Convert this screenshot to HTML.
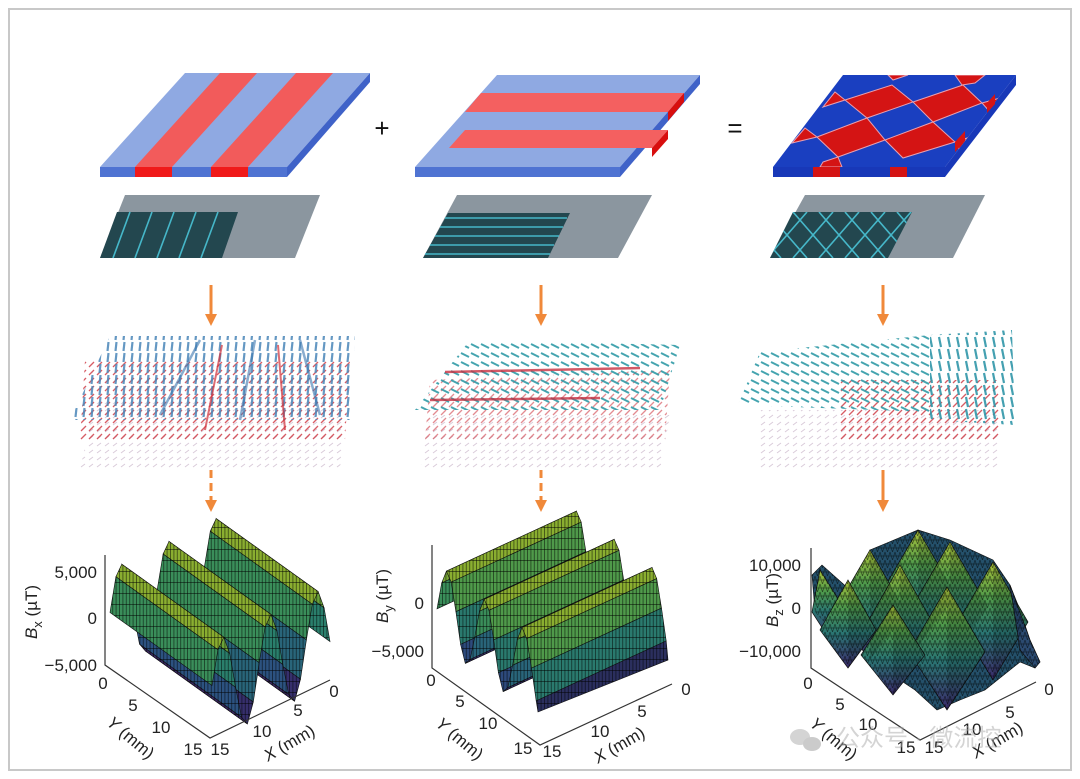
<!DOCTYPE html>
<html><head><meta charset="utf-8">
<style>
html,body{margin:0;padding:0;background:#fff;}
svg{display:block;font-family:"Liberation Sans","Noto Sans CJK SC",sans-serif;}
.t{font-size:17px;fill:#222;}
</style></head>
<body>
<svg width="1080" height="779" viewBox="0 0 1080 779" xmlns="http://www.w3.org/2000/svg">
<defs>
<clipPath id="c3"><polygon points="843,75 1016,75 945,167 773,167"/></clipPath>
<clipPath id="m3"><polygon points="793,212 912,212 888,258 770,258"/></clipPath>
<clipPath id="s1">
<polygon points="228,568.6 330,641.6 324.1,607.8 222.1,534.8"/>
<polygon points="222.1,534.8 324.1,607.8 318.2,591.6 216.2,518.6"/>
<polygon points="216.2,518.6 318.2,591.6 312.3,604.2 210.3,531.2"/>
<polygon points="210.3,531.2 312.3,604.2 306.4,639.9 204.4,566.9"/>
<polygon points="204.4,566.9 306.4,639.9 300.5,679.2 198.5,606.2"/>
<polygon points="198.5,606.2 300.5,679.2 294.6,701.2 192.6,628.2"/>
<polygon points="192.6,628.2 294.6,701.2 288.7,694.3 186.7,621.3"/>
<polygon points="186.7,621.3 288.7,694.3 282.8,664.4 180.8,591.4"/>
<polygon points="180.8,591.4 282.8,664.4 276.9,630.6 174.9,557.6"/>
<polygon points="174.9,557.6 276.9,630.6 271,614.4 169,541.4"/>
<polygon points="169,541.4 271,614.4 265.1,627 163.1,554"/>
<polygon points="163.1,554 265.1,627 259.2,662.7 157.2,589.7"/>
<polygon points="157.2,589.7 259.2,662.7 253.3,702 151.3,629"/>
<polygon points="151.3,629 253.3,702 247.4,724 145.4,651"/>
<polygon points="145.4,651 247.4,724 241.5,717.1 139.5,644.1"/>
<polygon points="139.5,644.1 241.5,717.1 235.6,687.2 133.6,614.2"/>
<polygon points="133.6,614.2 235.6,687.2 229.7,653.4 127.7,580.4"/>
<polygon points="127.7,580.4 229.7,653.4 223.8,637.2 121.8,564.2"/>
<polygon points="121.8,564.2 223.8,637.2 217.9,649.8 115.9,576.8"/>
<polygon points="115.9,576.8 217.9,649.8 212,685.5 110,612.5"/>
</clipPath>
<clipPath id="s2">
<polygon points="437,608.8 567,548.8 571.7,522.9 441.7,582.9"/>
<polygon points="441.7,582.9 571.7,522.9 576.4,511.1 446.4,571.1"/>
<polygon points="446.4,571.1 576.4,511.1 581.2,522.1 451.2,582.1"/>
<polygon points="451.2,582.1 581.2,522.1 585.9,551.7 455.9,611.7"/>
<polygon points="455.9,611.7 585.9,551.7 590.6,584.4 460.6,644.4"/>
<polygon points="460.6,644.4 590.6,584.4 595.3,603.4 465.3,663.4"/>
<polygon points="465.3,663.4 595.3,603.4 600.1,599.4 470.1,659.4"/>
<polygon points="470.1,659.4 600.1,599.4 604.8,577 474.8,637"/>
<polygon points="474.8,637 604.8,577 609.5,551.1 479.5,611.1"/>
<polygon points="479.5,611.1 609.5,551.1 614.2,539.3 484.2,599.3"/>
<polygon points="484.2,599.3 614.2,539.3 619,550.3 489,610.3"/>
<polygon points="489,610.3 619,550.3 623.7,579.9 493.7,639.9"/>
<polygon points="493.7,639.9 623.7,579.9 628.4,612.7 498.4,672.7"/>
<polygon points="498.4,672.7 628.4,612.7 633.1,631.6 503.1,691.6"/>
<polygon points="503.1,691.6 633.1,631.6 637.8,627.6 507.8,687.6"/>
<polygon points="507.8,687.6 637.8,627.6 642.6,605.2 512.6,665.2"/>
<polygon points="512.6,665.2 642.6,605.2 647.3,579.4 517.3,639.4"/>
<polygon points="517.3,639.4 647.3,579.4 652,567.5 522,627.5"/>
<polygon points="522,627.5 652,567.5 656.7,578.6 526.7,638.6"/>
<polygon points="526.7,638.6 656.7,578.6 661.5,608.1 531.5,668.1"/>
<polygon points="531.5,668.1 661.5,608.1 666.2,640.9 536.2,700.9"/>
<polygon points="536.2,700.9 666.2,640.9 668,660 538,712"/>
</clipPath>
<clipPath id="s3">
<polygon points="812,575 822,565 850,590 870,550 918,530 950,540 993,560 1010,585 1020,610 1030,640 1040,662 1035,668 1020,662 985,690 960,700 937,710 915,690 900,680 880,660 860,648 840,640 815,612"/>
<polygon points="918,530 956,595 918,645 880,595"/><polygon points="950,542 988,607 950,657 912,607"/>
<polygon points="870,550 906,612 870,660 834,612"/><polygon points="993,562 1028,622 993,680 958,622"/>
<polygon points="900,565 934,625 900,672 866,625"/><polygon points="848,580 876,630 848,668 820,630"/>
<polygon points="947,587 985,652 947,710 909,652"/><polygon points="893,605 925,655 893,695 861,655"/>
</clipPath>
<pattern id="mesh" width="3.4" height="11" patternUnits="userSpaceOnUse">
<line x1="0.5" y1="0" x2="0.5" y2="11" stroke="#000" stroke-width="0.8" opacity="0.6"/>
<line x1="0" y1="10.5" x2="3.4" y2="10.5" stroke="#000" stroke-width="0.9" opacity="0.55"/>
</pattern>
<pattern id="mesh3" width="5" height="8" patternUnits="userSpaceOnUse">
<path d="M0,0 L2.5,8 M5,0 L2.5,8 M0,4 L5,4" stroke="#000" stroke-width="0.7" opacity="0.55" fill="none"/>
</pattern>
<pattern id="pBlue" width="8" height="11" patternUnits="userSpaceOnUse">
<line x1="3.5" y1="10" x2="4.5" y2="1" stroke="#4a86b8" stroke-width="2.2"/>
</pattern>
<pattern id="pRed" width="8" height="8" patternUnits="userSpaceOnUse">
<line x1="1" y1="7" x2="6" y2="2" stroke="#d0404a" stroke-width="1.3"/>
</pattern>
<pattern id="pGray" width="8" height="7" patternUnits="userSpaceOnUse">
<line x1="1" y1="5" x2="5" y2="2" stroke="#c0a8c0" stroke-width="1"/>
</pattern>
<pattern id="pTeal" width="10" height="9" patternUnits="userSpaceOnUse">
<line x1="9" y1="6" x2="1" y2="2" stroke="#2f9aa6" stroke-width="2"/>
</pattern>
<pattern id="pTealV" width="9" height="12" patternUnits="userSpaceOnUse">
<line x1="3" y1="1" x2="5" y2="11" stroke="#2f95a8" stroke-width="2.2"/>
</pattern>
<linearGradient id="cone" x1="0" y1="0" x2="0" y2="1">
<stop offset="0" stop-color="#a9c23a"/><stop offset="0.3" stop-color="#4f9a4a"/>
<stop offset="0.6" stop-color="#2a7572"/><stop offset="1" stop-color="#3b2a6b"/>
</linearGradient>
</defs>
<rect x="0" y="0" width="1080" height="779" fill="#fff"/>
<rect x="9" y="9" width="1062" height="761" fill="none" stroke="#c8c8c8" stroke-width="2"/>

<!-- Slab 1 -->
<polygon points="185,73 370,73 287,167 100,167" fill="#8fa9e2"/>
<polygon points="100,167 287,167 287,177 100,177" fill="#4f73d2"/>
<polygon points="370,73 370,82 287,177 287,167" fill="#3f62c8"/>
<polygon points="220,73 257,73 172,167 135,167" fill="#f25b5b"/>
<polygon points="296,73 333,73 248,167 211,167" fill="#f25b5b"/>
<rect x="135" y="167" width="37" height="10" fill="#f01a1a"/>
<rect x="211" y="167" width="37" height="10" fill="#f01a1a"/>
<!-- Slab 2 -->
<polygon points="497,75 700,75 620,167 415,167" fill="#8fa9e2"/>
<polygon points="415,167 620,167 620,177 415,177" fill="#4f73d2"/>
<polygon points="700,75 700,84 620,177 620,167" fill="#3f62c8"/>
<polygon points="481,93 684,93 668,112 465,112" fill="#f46060"/>
<polygon points="465,130 668,130 652,148 449,148" fill="#f46060"/>
<polygon points="684,93 684,102 668,121 668,112" fill="#d80e0e"/>
<polygon points="668,130 668,139 652,157 652,148" fill="#d80e0e"/>
<text x="382" y="137" font-size="26" fill="#111" text-anchor="middle">+</text>
<text x="735" y="137" font-size="26" fill="#111" text-anchor="middle">=</text>
<!-- Slab 3 -->
<polygon points="843,75 1016,75 945,167 773,167" fill="#1a3fc0"/>
<g clip-path="url(#c3)" fill="#d41414" stroke="#e8a0b0" stroke-width="1">
<polygon points="888,75 908,75 893,80"/>
<polygon points="955,75 985,75 975,83 962,85"/>
<polygon points="835,92 845,100 823,107"/>
<polygon points="845,100 892,85 913,102 867,118"/>
<polygon points="913,102 963,85 982,103 933,122"/>
<polygon points="982,103 1000,98 990,112"/>
<polygon points="805,128 817,137 792,143"/>
<polygon points="817,137 867,118 885,140 838,157"/>
<polygon points="885,140 933,122 955,142 903,158"/>
<polygon points="955,142 967,138 960,150"/>
<polygon points="823,162 838,157 842,167 820,167"/>
</g>
<polygon points="773,167 945,167 945,177 773,177" fill="#1838b8"/>
<rect x="813" y="167" width="27" height="10" fill="#d41414"/>
<rect x="890" y="167" width="17" height="10" fill="#d41414"/>
<polygon points="1016,75 1016,85 945,177 945,167" fill="#1838b8"/>
<polygon points="987,103 995,94 995,104 987,113" fill="#d41414"/>
<polygon points="955,142 965,131 965,141 955,152" fill="#d41414"/>

<!-- microscope images -->
<polygon points="125,195 320,195 295,258 100,258" fill="#8b969f"/>
<polygon points="117,212 238,212 222,258 100,258" fill="#23474f"/>
<polygon points="457,195 652,195 618,258 423,258" fill="#8b969f"/>
<polygon points="448,213 570,213 548,258 423,258" fill="#23474f"/>
<polygon points="805,195 985,195 953,258 770,258" fill="#8b969f"/>
<polygon points="793,212 912,212 888,258 770,258" fill="#23474f"/>
<g stroke="#4fd4e8" stroke-width="1.6" fill="none" opacity="0.8">
<line x1="130" y1="212" x2="113" y2="258"/><line x1="152" y1="212" x2="135" y2="258"/>
<line x1="174" y1="212" x2="157" y2="258"/><line x1="196" y1="212" x2="179" y2="258"/>
<line x1="218" y1="212" x2="201" y2="258"/>
<line x1="445" y1="218" x2="567" y2="218"/><line x1="440" y1="227" x2="563" y2="227"/>
<line x1="435" y1="236" x2="559" y2="236"/><line x1="430" y1="245" x2="554" y2="245"/>
<line x1="425" y1="254" x2="550" y2="254"/>
<g clip-path="url(#m3)">
<path d="M715,212 L755,258 M741,212 L781,258 M767,212 L807,258 M793,212 L833,258 M819,212 L859,258 M845,212 L885,258 M871,212 L911,258 M897,212 L937,258
M755,212 L715,258 M781,212 L741,258 M807,212 L767,258 M833,212 L793,258 M859,212 L819,258 M885,212 L845,258 M911,212 L871,258 M937,212 L897,258"/>
</g>
</g>

<!-- orange arrows -->
<g stroke="#f0893a" stroke-width="3" fill="#f0893a">
<line x1="211" y1="285" x2="211" y2="316"/><polygon points="205,314 217,314 211,326" stroke="none"/>
<line x1="541" y1="285" x2="541" y2="316"/><polygon points="535,314 547,314 541,326" stroke="none"/>
<line x1="883" y1="285" x2="883" y2="316"/><polygon points="877,314 889,314 883,326" stroke="none"/>
<line x1="211" y1="470" x2="211" y2="500" stroke-dasharray="8,5"/><polygon points="205,500 217,500 211,512" stroke="none"/>
<line x1="541" y1="470" x2="541" y2="500" stroke-dasharray="8,5"/><polygon points="535,500 547,500 541,512" stroke="none"/>
<line x1="883" y1="470" x2="883" y2="500"/><polygon points="877,500 889,500 883,512" stroke="none"/>
</g>

<!-- vector fields -->
<polygon points="95,400 345,400 340,470 80,470" fill="url(#pGray)" opacity="0.6"/>
<polygon points="85,360 350,360 345,440 80,440" fill="url(#pRed)" opacity="0.85"/>
<polygon points="110,336 355,336 352,420 70,420" fill="url(#pBlue)" opacity="0.85"/>
<g stroke="#3d78b0" stroke-width="2.5" opacity="0.6">
<line x1="200" y1="340" x2="160" y2="415"/><line x1="255" y1="340" x2="240" y2="420"/><line x1="300" y1="340" x2="320" y2="415"/>
</g>
<g stroke="#d0303a" stroke-width="2" opacity="0.7">
<line x1="222" y1="345" x2="205" y2="430"/><line x1="278" y1="345" x2="285" y2="430"/>
</g>
<polygon points="430,415 670,415 660,470 420,470" fill="url(#pGray)" opacity="0.6"/>
<polygon points="430,380 670,370 665,440 425,440" fill="url(#pRed)" opacity="0.6"/>
<polygon points="470,340 680,345 660,410 415,410" fill="url(#pTeal)" opacity="0.9"/>
<g stroke="#c83040" stroke-width="2.5" opacity="0.8">
<line x1="445" y1="372" x2="640" y2="368"/><line x1="430" y1="400" x2="600" y2="398"/>
</g>
<polygon points="760,410 1000,410 1000,470 760,470" fill="url(#pGray)" opacity="0.6"/>
<polygon points="840,380 1000,380 1000,440 840,440" fill="url(#pRed)" opacity="0.85"/>
<polygon points="760,352 930,335 930,412 738,405" fill="url(#pTeal)" opacity="0.9"/>
<polygon points="930,335 1012,330 1015,425 930,420" fill="url(#pTealV)" opacity="0.9"/>

<!-- Surface 1 -->
<g stroke="#111" stroke-width="0.6">
<polygon points="228,568.6 330,641.6 324.1,607.8 222.1,534.8" fill="#2a7f6c"/>
<polygon points="222.1,534.8 324.1,607.8 318.2,591.6 216.2,518.6" fill="#6aa23a"/>
<polygon points="216.2,518.6 318.2,591.6 312.3,604.2 210.3,531.2" fill="#8aae30"/>
<polygon points="210.3,531.2 312.3,604.2 306.4,639.9 204.4,566.9" fill="#3a8e5a"/>
<polygon points="204.4,566.9 306.4,639.9 300.5,679.2 198.5,606.2" fill="#29657a"/>
<polygon points="198.5,606.2 300.5,679.2 294.6,701.2 192.6,628.2" fill="#362f6c"/>
<polygon points="192.6,628.2 294.6,701.2 288.7,694.3 186.7,621.3" fill="#3a2865"/>
<polygon points="186.7,621.3 288.7,694.3 282.8,664.4 180.8,591.4" fill="#2c5280"/>
<polygon points="180.8,591.4 282.8,664.4 276.9,630.6 174.9,557.6" fill="#2a7f6c"/>
<polygon points="174.9,557.6 276.9,630.6 271,614.4 169,541.4" fill="#6aa23a"/>
<polygon points="169,541.4 271,614.4 265.1,627 163.1,554" fill="#8aae30"/>
<polygon points="163.1,554 265.1,627 259.2,662.7 157.2,589.7" fill="#3a8e5a"/>
<polygon points="157.2,589.7 259.2,662.7 253.3,702 151.3,629" fill="#29657a"/>
<polygon points="151.3,629 253.3,702 247.4,724 145.4,651" fill="#362f6c"/>
<polygon points="145.4,651 247.4,724 241.5,717.1 139.5,644.1" fill="#3a2865"/>
<polygon points="139.5,644.1 241.5,717.1 235.6,687.2 133.6,614.2" fill="#2c5280"/>
<polygon points="133.6,614.2 235.6,687.2 229.7,653.4 127.7,580.4" fill="#2a7f6c"/>
<polygon points="127.7,580.4 229.7,653.4 223.8,637.2 121.8,564.2" fill="#6aa23a"/>
<polygon points="121.8,564.2 223.8,637.2 217.9,649.8 115.9,576.8" fill="#8aae30"/>
<polygon points="115.9,576.8 217.9,649.8 212,685.5 110,612.5" fill="#3a8e5a"/>
</g>
<rect x="100" y="510" width="240" height="230" fill="url(#mesh)" clip-path="url(#s1)"/>

<!-- Surface 2 -->
<g stroke="#111" stroke-width="0.6">
<polygon points="437,608.8 567,548.8 571.7,522.9 441.7,582.9" fill="#3a8e5a"/>
<polygon points="441.7,582.9 571.7,522.9 576.4,511.1 446.4,571.1" fill="#7aa836"/>
<polygon points="446.4,571.1 576.4,511.1 581.2,522.1 451.2,582.1" fill="#8aae30"/>
<polygon points="451.2,582.1 581.2,522.1 585.9,551.7 455.9,611.7" fill="#4f9a4a"/>
<polygon points="455.9,611.7 585.9,551.7 590.6,584.4 460.6,644.4" fill="#2a7a6e"/>
<polygon points="460.6,644.4 590.6,584.4 595.3,603.4 465.3,663.4" fill="#2d4a7c"/>
<polygon points="465.3,663.4 595.3,603.4 600.1,599.4 470.1,659.4" fill="#352f6c"/>
<polygon points="470.1,659.4 600.1,599.4 604.8,577 474.8,637" fill="#29657a"/>
<polygon points="474.8,637 604.8,577 609.5,551.1 479.5,611.1" fill="#3a8e5a"/>
<polygon points="479.5,611.1 609.5,551.1 614.2,539.3 484.2,599.3" fill="#7aa836"/>
<polygon points="484.2,599.3 614.2,539.3 619,550.3 489,610.3" fill="#8aae30"/>
<polygon points="489,610.3 619,550.3 623.7,579.9 493.7,639.9" fill="#4f9a4a"/>
<polygon points="493.7,639.9 623.7,579.9 628.4,612.7 498.4,672.7" fill="#2a7a6e"/>
<polygon points="498.4,672.7 628.4,612.7 633.1,631.6 503.1,691.6" fill="#2d4a7c"/>
<polygon points="503.1,691.6 633.1,631.6 637.8,627.6 507.8,687.6" fill="#352f6c"/>
<polygon points="507.8,687.6 637.8,627.6 642.6,605.2 512.6,665.2" fill="#29657a"/>
<polygon points="512.6,665.2 642.6,605.2 647.3,579.4 517.3,639.4" fill="#3a8e5a"/>
<polygon points="517.3,639.4 647.3,579.4 652,567.5 522,627.5" fill="#7aa836"/>
<polygon points="522,627.5 652,567.5 656.7,578.6 526.7,638.6" fill="#8aae30"/>
<polygon points="526.7,638.6 656.7,578.6 661.5,608.1 531.5,668.1" fill="#4f9a4a"/>
<polygon points="531.5,668.1 661.5,608.1 666.2,640.9 536.2,700.9" fill="#2a7a6e"/>
<polygon points="536.2,700.9 666.2,640.9 668,660 538,712" fill="#2b2f5e"/>
</g>
<rect x="430" y="505" width="245" height="215" fill="url(#mesh)" clip-path="url(#s2)"/>

<!-- Surface 3 -->
<polygon points="812,575 822,565 850,590 870,550 918,530 950,540 993,560 1010,585 1020,610 1030,640 1040,662 1035,668 1020,662 985,690 960,700 937,710 915,690 900,680 880,660 860,648 840,640 815,612" fill="#24506a" stroke="#111" stroke-width="0.6"/>
<g stroke="#111" stroke-width="0.7">
<polygon points="918,530 956,595 918,645 880,595" fill="url(#cone)"/>
<polygon points="950,542 988,607 950,657 912,607" fill="url(#cone)"/>
<polygon points="870,550 906,612 870,660 834,612" fill="url(#cone)"/>
<polygon points="993,562 1028,622 993,680 958,622" fill="url(#cone)"/>
<polygon points="900,565 934,625 900,672 866,625" fill="url(#cone)"/>
<polygon points="820,570 845,610 830,640 812,612" fill="url(#cone)"/>
<polygon points="848,580 876,630 848,668 820,630" fill="url(#cone)"/>
<polygon points="947,587 985,652 947,710 909,652" fill="url(#cone)"/>
<polygon points="893,605 925,655 893,695 861,655" fill="url(#cone)"/>
<polygon points="1010,585 1030,640 1040,662 1035,668 1020,650" fill="#2b4a70"/>
</g>
<g fill="#000" opacity="0.14">
<polygon points="918,530 956,595 918,645"/><polygon points="950,542 988,607 950,657"/>
<polygon points="870,550 906,612 870,660"/><polygon points="993,562 1028,622 993,680"/>
<polygon points="900,565 934,625 900,672"/><polygon points="848,580 876,630 848,668"/>
<polygon points="947,587 985,652 947,710"/><polygon points="893,605 925,655 893,695"/>
</g>
<rect x="805" y="520" width="240" height="200" fill="url(#mesh3)" clip-path="url(#s3)"/>

<!-- axes -->
<g stroke="#333" stroke-width="1.2" fill="none">
<polyline points="105,555 105,665 210,738 330,680"/>
<polyline points="432,545 432,668 540,745 672,684"/>
<polyline points="811,548 811,668 920,740 1036,682"/>
</g>
<!-- panel 1 labels -->
<text class="t" x="97" y="578" text-anchor="end">5,000</text>
<text class="t" x="97" y="624" text-anchor="end">0</text>
<text class="t" x="97" y="671" text-anchor="end">−5,000</text>
<text class="t" font-size="19" transform="translate(37,612) rotate(-90)" text-anchor="middle"><tspan font-style="italic">B</tspan><tspan font-size="13" dy="5">x</tspan><tspan dy="-5"> (µT)</tspan></text>
<text class="t" x="103" y="689" text-anchor="middle">0</text>
<text class="t" x="133" y="711" text-anchor="middle">5</text>
<text class="t" x="161" y="733" text-anchor="middle">10</text>
<text class="t" x="193" y="755" text-anchor="middle">15</text>
<text class="t" x="220" y="755" text-anchor="middle">15</text>
<text class="t" x="262" y="737" text-anchor="middle">10</text>
<text class="t" x="298" y="716" text-anchor="middle">5</text>
<text class="t" x="334" y="697" text-anchor="middle">0</text>
<text class="t" transform="translate(127,742) rotate(40)" text-anchor="middle" font-size="20"><tspan font-style="italic">Y</tspan> (mm)</text>
<text class="t" transform="translate(292,748) rotate(-30)" text-anchor="middle" font-size="20"><tspan font-style="italic">X</tspan> (mm)</text>
<!-- panel 2 labels -->
<text class="t" x="424" y="609" text-anchor="end">0</text>
<text class="t" x="424" y="657" text-anchor="end">−5,000</text>
<text class="t" font-size="19" transform="translate(388,596) rotate(-90)" text-anchor="middle"><tspan font-style="italic">B</tspan><tspan font-size="13" dy="5">y</tspan><tspan dy="-5"> (µT)</tspan></text>
<text class="t" x="431" y="686" text-anchor="middle">0</text>
<text class="t" x="460" y="707" text-anchor="middle">5</text>
<text class="t" x="488" y="729" text-anchor="middle">10</text>
<text class="t" x="523" y="754" text-anchor="middle">15</text>
<text class="t" x="552" y="757" text-anchor="middle">15</text>
<text class="t" x="600" y="737" text-anchor="middle">10</text>
<text class="t" x="642" y="717" text-anchor="middle">5</text>
<text class="t" x="686" y="695" text-anchor="middle">0</text>
<text class="t" transform="translate(456,743) rotate(40)" text-anchor="middle" font-size="20"><tspan font-style="italic">Y</tspan> (mm)</text>
<text class="t" transform="translate(622,750) rotate(-30)" text-anchor="middle" font-size="20"><tspan font-style="italic">X</tspan> (mm)</text>
<!-- panel 3 labels -->
<text class="t" x="801" y="571" text-anchor="end">10,000</text>
<text class="t" x="801" y="614" text-anchor="end">0</text>
<text class="t" x="801" y="657" text-anchor="end">−10,000</text>
<text class="t" font-size="19" transform="translate(778,600) rotate(-90)" text-anchor="middle"><tspan font-style="italic">B</tspan><tspan font-size="13" dy="5">z</tspan><tspan dy="-5"> (µT)</tspan></text>
<text class="t" x="808" y="689" text-anchor="middle">0</text>
<text class="t" x="840" y="710" text-anchor="middle">5</text>
<text class="t" x="868" y="730" text-anchor="middle">10</text>
<text class="t" x="906" y="753" text-anchor="middle">15</text>
<text class="t" x="934" y="753" text-anchor="middle">15</text>
<text class="t" x="972" y="735" text-anchor="middle">10</text>
<text class="t" x="1010" y="718" text-anchor="middle">5</text>
<text class="t" x="1049" y="695" text-anchor="middle">0</text>
<text class="t" transform="translate(830,743) rotate(40)" text-anchor="middle" font-size="20"><tspan font-style="italic">Y</tspan> (mm)</text>
<text class="t" transform="translate(1000,745) rotate(-30)" text-anchor="middle" font-size="20"><tspan font-style="italic">X</tspan> (mm)</text>
<!-- watermark -->
<g opacity="0.5">
<ellipse cx="800" cy="737" rx="10" ry="8" fill="#aaa"/><ellipse cx="812" cy="744" rx="9" ry="7" fill="#999"/>
<text x="836" y="746" font-size="24" fill="#aaa">公众号 · 微流控</text>
</g>
</svg>
</body></html>
